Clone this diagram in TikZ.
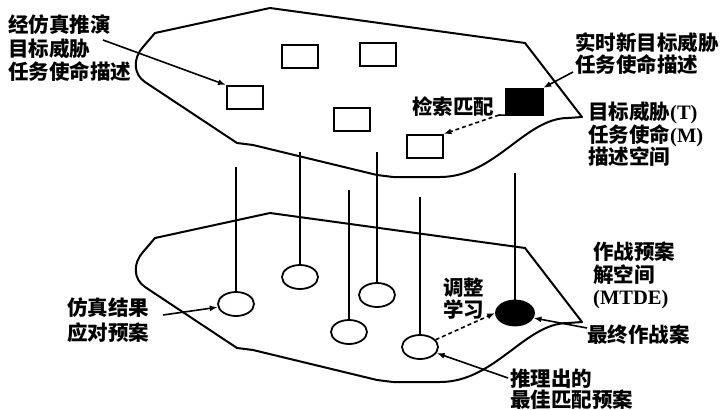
\documentclass[tikz,border=0pt]{standalone}
\usepackage{fontspec}
\newfontfamily\cjk{Noto Sans CJK SC}
\newfontfamily\lat{Liberation Serif}
\usetikzlibrary{arrows.meta,shapes.geometric}
\begin{document}
\begin{tikzpicture}[x=1pt,y=-1pt,
  plane/.style={line width=2pt, line join=round},
  rbox/.style={draw, line width=2pt, minimum width=36pt, minimum height=23pt, inner sep=0pt},
  ell/.style={ellipse, draw, line width=1.8pt, minimum width=36pt, minimum height=24pt, inner sep=0pt},
  stem/.style={line width=1.5pt},
  stemb/.style={line width=2.4pt},
  arr/.style={line width=1.6pt, -{Latex[length=8pt,width=6pt]}},
  dots/.style={arr, dash pattern=on 4pt off 3pt},
  lbl/.style={inner sep=0pt, anchor=west, align=left, font=\cjk\bfseries\fontsize{20.5}{#1}\selectfont},
  lbl/.default=22
]
\useasboundingbox (0,0) rectangle (721,410);
% planes
\draw[plane] (155,33) -- (270,8) -- (525,43) -- (582,117) -- (568,118)
  .. controls (525,118) and (495,177) .. (440,177) -- (393,177) -- (377,175)
  -- (253,145) -- (237,143) -- (145,82) .. controls (133,74) and (133,58) .. (143,47) -- cycle;
\draw[plane, shift={(0,205)}] (155,33) -- (270,8) -- (525,43) -- (582,117) -- (568,118)
  .. controls (525,118) and (495,177) .. (440,177) -- (393,177) -- (377,175)
  -- (253,145) -- (237,143) -- (145,82) .. controls (133,74) and (133,58) .. (143,47) -- cycle;
% top plane boxes
\node[rbox, line width=2.6pt] (r1) at (300,56.5) {};
\node[rbox] (r2) at (377.5,54.5) {};
\node[rbox] (r3) at (245,97.5) {};
\node[rbox] (r4) at (351.5,119.5) {};
\node[rbox] (r5) at (424.5,146.5) {};
\node[draw, fill=black, minimum width=38pt, minimum height=27pt, inner sep=0pt] (blk) at (524,101.5) {};
% bottom plane ellipses
\node[ell] (e1) at (236,304) {};
\node[ell] (e2) at (300,277) {};
\node[ell] (e3) at (377,295) {};
\node[ell] (e4) at (349,332) {};
\node[ell] (e5) at (420,347) {};
\node[ell, fill=black, minimum width=38pt, minimum height=25pt] (eb) at (515,313) {};
% stems
\coordinate (t1) at (236,167);
\coordinate (t2) at (300,152);
\coordinate (t3) at (349,190);
\coordinate (t4) at (377,152);
\coordinate (t5) at (420,197);
\coordinate (t6) at (515,173);
\draw[stem] (t1) -- (e1.north);
\draw[stemb] (t2) -- (e2.north);
\draw[stemb] (t3) -- (e4.north);
\draw[stem] (t4) -- (e3.north);
\draw[stem] (t5) -- (e5.north);
\draw[stem] (t6) -- (eb.north);
% labels
\node[lbl=23.5] (l1) at (8,48.5) {经仿真推演\\目标威胁\\任务使命描述};
\node[lbl=22] (l2) at (575,54) {实时新目标威胁\\任务使命描述};
\node[lbl=22.5] (l3) at (588,134.5) {目标威胁{\lat\bfseries(T)}\\任务使命{\lat\bfseries(M)}\\描述空间};
\node[lbl] (l4) at (412,107) {检索匹配};
\node[lbl=24.5] (l5) at (67,320) {仿真结果\\应对预案};
\node[lbl=22.5] (l6) at (593,275.5) {作战预案\\解空间\\{\lat\bfseries(MTDE)}};
\node[lbl=22] (l7) at (443,299) {调整\\学习};
\node[lbl] (l8) at (587,335) {最终作战案};
\node[lbl=21] (l9) at (510,389) {推理出的\\最佳匹配预案};
% arrows
\coordinate (c1) at (103,40);
\coordinate (c2) at (573,72);
\coordinate (c3) at (499,115);
\coordinate (c4) at (163,315);
\coordinate (c6) at (587,328);
\coordinate (c7) at (508,378);
\draw[arr] (c1) -- (r3.north west);
\draw[arr] (c2) -- (blk.north east);
\draw[line width=1.6pt] (blk.south west) -- (c3);
\draw[dots] (c3) -- (r5.north east);
\draw[arr] (c4) -- (e1.190);
\draw[dots] (e5.25) -- (eb.west);
\draw[arr] (c6) -- (eb.-15);
\draw[arr] (c7) -- (e5.-20);
\end{tikzpicture}
\end{document}
